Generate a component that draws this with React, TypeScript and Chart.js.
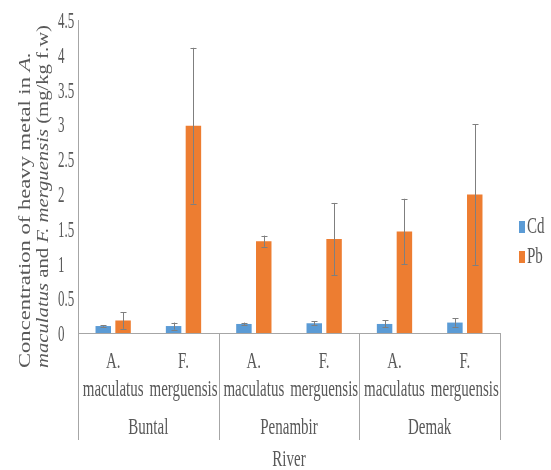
import React, { useEffect, useRef } from "react";
import { Chart, registerables } from "chart.js";

Chart.register(...registerables);

// ---- data ----
const categories = [
  "A. maculatus",
  "F. merguensis",
  "A. maculatus",
  "F. merguensis",
  "A. maculatus",
  "F. merguensis",
];
const speciesLines = [
  ["A.", "maculatus"],
  ["F.", "merguensis"],
  ["A.", "maculatus"],
  ["F.", "merguensis"],
  ["A.", "maculatus"],
  ["F.", "merguensis"],
];
const rivers = ["Buntal", "Penambir", "Demak"];
const cdValues = [0.1, 0.1, 0.13, 0.14, 0.13, 0.15];
const cdErrors = [0.01, 0.05, 0.02, 0.03, 0.05, 0.06];
const pbValues = [0.18, 2.98, 1.32, 1.35, 1.46, 1.99];
const pbErrors = [0.12, 1.12, 0.08, 0.52, 0.47, 1.01];
const yMin = 0;
const yMax = 4.5;
const yStep = 0.5;
const xAxisTitle = "River";
const yTitleLine1 = [
  { t: "Concentration of heavy metal in ", i: false },
  { t: "A.", i: true },
];
const yTitleLine2 = [
  { t: "maculatus", i: true },
  { t: " and ", i: false },
  { t: "F. merguensis", i: true },
  { t: " (mg/kg f.w)", i: false },
];

const errorSets = [cdErrors, pbErrors];

const FONT = "'Liberation Serif', 'Times New Roman', serif";
const TEXT = "#595959";
const AXIS = "#A6A6A6";

function stretchText(
  ctx: CanvasRenderingContext2D,
  text: string,
  x: number,
  y: number,
  size: number,
  k: number,
  align: CanvasTextAlign
) {
  ctx.save();
  ctx.translate(x, y);
  ctx.scale(1, k);
  ctx.font = `${size}px ${FONT}`;
  ctx.textAlign = align;
  ctx.textBaseline = "middle";
  ctx.fillStyle = TEXT;
  ctx.fillText(text, 0, 0);
  ctx.restore();
}

function drawRotatedLine(
  ctx: CanvasRenderingContext2D,
  segs: { t: string; i: boolean }[],
  cx: number,
  startY: number,
  size: number,
  targetLen: number
) {
  ctx.save();
  let total = 0;
  for (const s of segs) {
    ctx.font = `${s.i ? "italic " : ""}${size}px ${FONT}`;
    total += ctx.measureText(s.t).width;
  }
  const k = targetLen / total;
  ctx.translate(cx, startY);
  ctx.rotate(-Math.PI / 2);
  ctx.scale(k, 1);
  ctx.textAlign = "left";
  ctx.textBaseline = "middle";
  ctx.fillStyle = TEXT;
  let x = 0;
  for (const s of segs) {
    ctx.font = `${s.i ? "italic " : ""}${size}px ${FONT}`;
    ctx.fillText(s.t, x, 0);
    x += ctx.measureText(s.t).width;
  }
  ctx.restore();
}

function fmt(v: number) {
  return String(Number(v.toFixed(2)));
}

const decorPlugin = {
  id: "decor",
  afterDatasetsDraw(chart: any) {
    const ctx: CanvasRenderingContext2D = chart.ctx;
    const yScale = chart.scales.y;
    const xScale = chart.scales.x;
    const area = chart.chartArea;

    // error bars
    ctx.save();
    ctx.strokeStyle = "#7F7F7F";
    ctx.lineWidth = 1;
    chart.data.datasets.forEach((ds: any, d: number) => {
      const meta = chart.getDatasetMeta(d);
      meta.data.forEach((el: any, i: number) => {
        const v = ds.data[i];
        const e = errorSets[d][i];
        const x = Math.round(el.x) + 0.5;
        const yTop = yScale.getPixelForValue(v + e);
        const yBot = yScale.getPixelForValue(v - e);
        ctx.beginPath();
        ctx.moveTo(x, yTop);
        ctx.lineTo(x, yBot);
        ctx.moveTo(x - 3, Math.round(yTop) + 0.5);
        ctx.lineTo(x + 3, Math.round(yTop) + 0.5);
        ctx.moveTo(x - 3, Math.round(yBot) + 0.5);
        ctx.lineTo(x + 3, Math.round(yBot) + 0.5);
        ctx.stroke();
      });
    });
    ctx.restore();

    // y tick labels
    yScale.ticks.forEach((t: any) => {
      const py = yScale.getPixelForValue(t.value) + 2;
      stretchText(ctx, fmt(t.value), 58, py, 13, 1.8, "left");
    });

    // x labels
    const n = chart.data.labels.length;
    const catW = (xScale.right - xScale.left) / n;
    speciesLines.forEach((lines, i) => {
      const px = xScale.getPixelForValue(i);
      stretchText(ctx, lines[0], px, area.bottom + 29, 15, 1.6, "center");
      stretchText(ctx, lines[1], px, area.bottom + 57, 15, 1.6, "center");
    });

    // group dividers and labels
    ctx.save();
    ctx.strokeStyle = AXIS;
    ctx.lineWidth = 1;
    for (let g = 0; g <= rivers.length; g++) {
      const bx = Math.round(xScale.getPixelForValue(g * 2) - catW / 2) + 0.5;
      ctx.beginPath();
      ctx.moveTo(bx, area.bottom);
      ctx.lineTo(bx, area.bottom + 107);
      ctx.stroke();
    }
    ctx.restore();
    rivers.forEach((r, g) => {
      const cx =
        (xScale.getPixelForValue(g * 2) + xScale.getPixelForValue(g * 2 + 1)) / 2;
      stretchText(ctx, r, cx, area.bottom + 95, 15, 1.6, "center");
    });

    // x axis title
    stretchText(
      ctx,
      xAxisTitle,
      (area.left + area.right) / 2,
      area.bottom + 127,
      15,
      1.6,
      "center"
    );

    // y axis title
    drawRotatedLine(ctx, yTitleLine1, 26, 368, 16, 316);
    drawRotatedLine(ctx, yTitleLine2, 44, 368, 16, 343);

    // legend
    chart.data.datasets.forEach((ds: any, d: number) => {
      const ly = 227 + d * 30;
      ctx.save();
      ctx.fillStyle = ds.backgroundColor;
      ctx.fillRect(519, ly - 6, 6, 12);
      ctx.restore();
      stretchText(ctx, ds.label, 527, ly, 15, 1.6, "left");
    });
  },
};

export default function App() {
  const ref = useRef<HTMLCanvasElement | null>(null);

  useEffect(() => {
    document.body.style.margin = "0";
    if (!ref.current) return;
    const chart = new Chart(ref.current, {
      type: "bar",
      data: {
        labels: categories,
        datasets: [
          {
            label: "Cd",
            data: cdValues,
            backgroundColor: "#5B9BD5",
            borderWidth: 0,
            categoryPercentage: 0.564,
            barPercentage: 0.78,
          },
          {
            label: "Pb",
            data: pbValues,
            backgroundColor: "#ED7D31",
            borderWidth: 0,
            categoryPercentage: 0.564,
            barPercentage: 0.78,
          },
        ],
      },
      options: {
        animation: false,
        responsive: false,
        maintainAspectRatio: false,
        devicePixelRatio: 1,
        layout: { padding: { top: 20, right: 51, left: 0, bottom: 0 } },
        plugins: {
          legend: { display: false },
          tooltip: { enabled: true },
        },
        scales: {
          x: {
            grid: { display: false },
            border: { color: AXIS, width: 1 },
            ticks: { display: false },
            afterFit: (s: any) => {
              s.height = 137;
            },
          },
          y: {
            min: yMin,
            max: yMax,
            grid: { display: false },
            border: { color: AXIS, width: 1 },
            ticks: { display: false, stepSize: yStep },
            afterFit: (s: any) => {
              s.width = 78;
            },
          },
        },
      },
      plugins: [decorPlugin],
    });
    return () => chart.destroy();
  }, []);

  return (
    <div style={{ width: 551, height: 470, background: "#fff" }}>
      <canvas ref={ref} width={551} height={470} />
    </div>
  );
}
